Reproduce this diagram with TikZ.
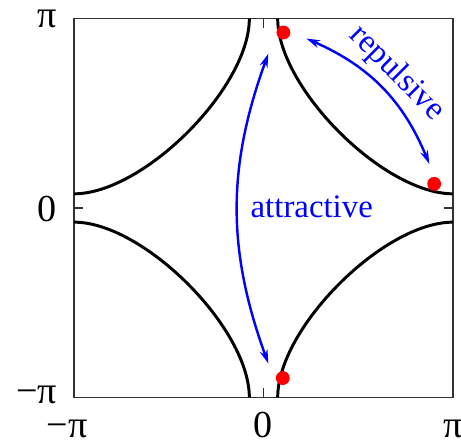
\documentclass[tikz,border=0pt]{standalone}
\usepackage{fontspec}
\setmainfont{Liberation Serif}
\usetikzlibrary{arrows.meta}

\begin{document}
\begin{tikzpicture}[thick,
  curve/.style={line width=1.4pt},
  frame/.style={black!80, line width=0.7pt},
  flow/.style={blue, line width=1.15pt, {Stealth[length=6.5pt,width=3.8pt]}-{Stealth[length=6.5pt,width=3.8pt]}},
  dot/.style={circle, fill=red, inner sep=0pt, minimum size=0.23cm},
  lbl/.style={font=\fontsize{18}{20}\selectfont, inner sep=0pt},
  word/.style={blue, font=\fontsize{15.5}{18}\selectfont}]

  \useasboundingbox (-4.37,-3.864) rectangle (3.275,3.449);

  \def\a{3.1416}  % half side
  \def\g{0.235}   % gap at the edge midpoints
  \def\h{1.15}    % handle of the curves

  % box
  \draw[frame] (-\a,-\a) rectangle (\a,\a);

  % Draw ticks at 0
  \draw[frame] (-\a,0) -- ++(0.15,0) (\a,0) -- ++(-0.15,0)
               (0,-\a) -- ++(0,0.15) (0,\a) -- ++(0,-0.15);

  % one curve per quadrant
  \foreach \sx/\sy in {1/1,-1/1,-1/-1,1/-1}
    \draw[curve, xscale=\sx, yscale=\sy] (\g,\a) .. controls (\g,\a-\h) and (\a-\h,\g) .. (\a,\g);

  \coordinate (repA) at (0.71,2.81);
  \coordinate (repB) at (2.75,0.73);
  \coordinate (attA) at (0.08,2.56);
  \coordinate (attB) at (0.08,-2.58);

  \draw[flow] (repA) to[bend left=22] (repB);
  \draw[flow] (attA) to[bend right=20] (attB);

  \node[word, rotate=-45] (rep) at (2.21,2.23) {repulsive};
  \node[word, anchor=base] (att) at (0.80,-0.155) {attractive};

  \node[dot] (ptop) at (0.33,2.91) {};
  \node[dot] (pright) at (2.83,0.40) {};
  \node[dot] (pbot) at (0.32,-2.82) {};

  % axis labels
  \foreach \y/\t [count=\i] in {3.13/π, -0.02/0, -3.10/−π}
    \node[lbl, anchor=east] (yl\i) at (-3.41,\y) {\t};
  \foreach \x/\t [count=\i] in {-3.26/−π, 0/0, \a/π}
    \node[lbl, anchor=base] (xl\i) at (\x,-3.81) {\t};

\end{tikzpicture}
\end{document}
